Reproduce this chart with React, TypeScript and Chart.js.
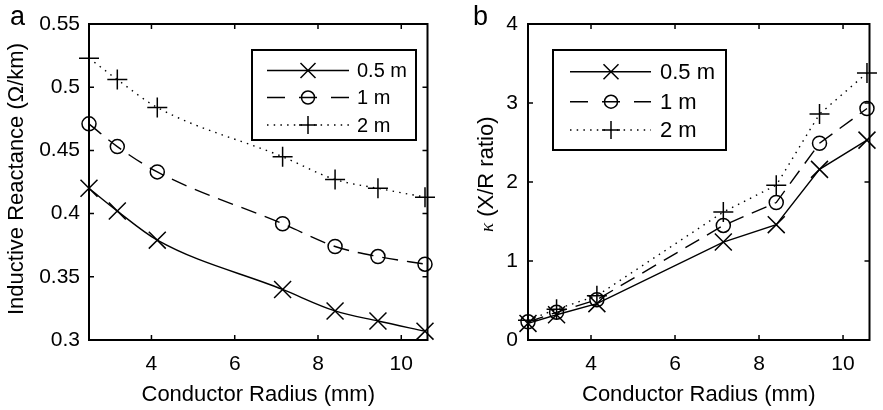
import React, { useEffect, useRef } from 'react';
import { Chart, registerables } from 'chart.js';

Chart.register(...registerables);

// ---------- data ----------
const radius = [2.5, 3.18, 4.14, 7.15, 8.41, 9.44, 10.57];
const seriesLabels = ['0.5 m', '1 m', '2 m'];

const reactance05 = [0.42, 0.402, 0.379, 0.34, 0.323, 0.315, 0.307];
const reactance1 = [0.471, 0.453, 0.433, 0.392, 0.374, 0.366, 0.36];
const reactance2 = [0.523, 0.506, 0.484, 0.445, 0.427, 0.42, 0.413];

const ratio05 = [0.21, 0.32, 0.46, 1.24, 1.46, 2.16, 2.53];
const ratio1 = [0.23, 0.35, 0.51, 1.45, 1.74, 2.49, 2.93];
const ratio2 = [0.25, 0.39, 0.56, 1.62, 1.96, 2.86, 3.38];

const xTicks = [4, 6, 8, 10];
const xTickLabels = ['4', '6', '8', '10'];
const reactanceTicks = [0.3, 0.35, 0.4, 0.45, 0.5, 0.55];
const reactanceTickLabels = ['0.3', '0.35', '0.4', '0.45', '0.5', '0.55'];
const ratioTicks = [0, 1, 2, 3, 4];
const ratioTickLabels = ['0', '1', '2', '3', '4'];

const FONT = "'Liberation Sans', Arial, Helvetica, sans-serif";

const seriesStyle = [
  { pointStyle: 'crossRot', r: 12, dash: [] as number[], legendDash: [] as number[] },
  { pointStyle: 'circle', r: 7, dash: [16, 9], legendDash: [18, 14] },
  { pointStyle: 'cross', r: 10, dash: [1.5, 5.2], legendDash: [1.5, 5.2] },
];

function drawMarker(ctx: CanvasRenderingContext2D, kind: string, x: number, y: number, s: number) {
  ctx.beginPath();
  if (kind === 'crossRot') {
    ctx.moveTo(x - s, y - s); ctx.lineTo(x + s, y + s);
    ctx.moveTo(x + s, y - s); ctx.lineTo(x - s, y + s);
  } else if (kind === 'circle') {
    ctx.arc(x, y, s, 0, Math.PI * 2);
  } else {
    ctx.moveTo(x - s, y); ctx.lineTo(x + s, y);
    ctx.moveTo(x, y - s); ctx.lineTo(x, y + s);
  }
  ctx.stroke();
}

type PanelCfg = {
  width: number;
  yValues: number[][];
  yMin: number; yMax: number;
  yTicks: number[]; yTickLabels: string[];
  yAxisWidth: number; yPad: number;
  padRight: number;
  smooth: boolean;
  panelLabel: string; panelLabelX: number;
  drawYTitle: (ctx: CanvasRenderingContext2D, area: any) => void;
  legend: { x0: number; y0: number; x1: number; y1: number; rows: number[]; lx0: number; lx1: number; mx: number; tx: number; font: number; ms: number[] };
};

function Panel({ cfg, left }: { cfg: PanelCfg; left: number }) {
  const ref = useRef<HTMLCanvasElement>(null);
  useEffect(() => {
    if (!ref.current) return;
    const framePlugin = {
      id: 'frameAndLegend',
      afterDraw(chart: any) {
        const { ctx, chartArea: a, scales } = chart;
        ctx.save();
        ctx.strokeStyle = '#000';
        ctx.fillStyle = '#000';
        // frame
        ctx.lineWidth = 2;
        ctx.setLineDash([]);
        ctx.strokeRect(a.left, a.top, a.right - a.left, a.bottom - a.top);
        ctx.lineWidth = 1.5;
        ctx.beginPath();
        for (const v of xTicks) {
          const px = scales.x.getPixelForValue(v);
          ctx.moveTo(px, a.bottom); ctx.lineTo(px, a.bottom - 5);
          ctx.moveTo(px, a.top); ctx.lineTo(px, a.top + 5);
        }
        for (const v of cfg.yTicks) {
          const py = scales.y.getPixelForValue(v);
          ctx.moveTo(a.left, py); ctx.lineTo(a.left + 5, py);
          ctx.moveTo(a.right, py); ctx.lineTo(a.right - 5, py);
        }
        ctx.stroke();
        // legend
        const L = cfg.legend;
        ctx.fillStyle = '#fff';
        ctx.fillRect(L.x0, L.y0, L.x1 - L.x0, L.y1 - L.y0);
        ctx.lineWidth = 2;
        ctx.strokeStyle = '#000';
        ctx.strokeRect(L.x0, L.y0, L.x1 - L.x0, L.y1 - L.y0);
        ctx.font = `${L.font}px ${FONT}`;
        ctx.textBaseline = 'middle';
        ctx.textAlign = 'left';
        seriesLabels.forEach((lab, i) => {
          const y = L.rows[i];
          const st = seriesStyle[i];
          ctx.lineWidth = 1.4;
          ctx.setLineDash(st.legendDash);
          ctx.beginPath();
          ctx.moveTo(L.lx0, y); ctx.lineTo(L.lx1, y);
          ctx.stroke();
          ctx.setLineDash([]);
          ctx.lineWidth = 1.5;
          drawMarker(ctx, st.pointStyle, L.mx, y, L.ms[i]);
          ctx.fillStyle = '#000';
          ctx.fillText(lab, L.tx, y + 1);
        });
        // y title
        cfg.drawYTitle(ctx, a);
        // panel label
        ctx.font = `27px ${FONT}`;
        ctx.textBaseline = 'alphabetic';
        ctx.textAlign = 'left';
        ctx.fillStyle = '#000';
        ctx.fillText(cfg.panelLabel, cfg.panelLabelX, 25);
        ctx.restore();
      },
    };

    const datasets = cfg.yValues.map((vals, i) => ({
      label: seriesLabels[i],
      data: radius.map((x, k) => ({ x, y: vals[k] })),
      borderColor: '#000',
      backgroundColor: 'rgba(0,0,0,0)',
      borderWidth: 1.4,
      borderDash: seriesStyle[i].dash,
      pointStyle: seriesStyle[i].pointStyle as any,
      pointRadius: seriesStyle[i].r,
      pointBorderWidth: 1.5,
      pointBorderColor: '#000',
      pointBackgroundColor: 'rgba(0,0,0,0)',
      fill: false,
      clip: false as any,
      cubicInterpolationMode: cfg.smooth ? ('monotone' as const) : ('default' as const),
      tension: 0,
    }));

    const chart = new Chart(ref.current, {
      type: 'line',
      data: { datasets },
      plugins: [framePlugin],
      options: {
        responsive: false,
        animation: false,
        devicePixelRatio: 1,
        layout: { padding: { top: 24, right: cfg.padRight, bottom: 0, left: 0 } },
        plugins: { legend: { display: false }, tooltip: { enabled: false } },
        scales: {
          x: {
            type: 'linear',
            min: 2.5,
            max: 10.63,
            grid: { display: false, drawTicks: false },
            border: { display: false },
            afterBuildTicks: (s: any) => { s.ticks = xTicks.map((v) => ({ value: v })); },
            afterFit: (s: any) => { s.height = 70; },
            ticks: {
              padding: 12,
              color: '#000',
              font: { family: FONT, size: 21 },
              maxRotation: 0,
              autoSkip: false,
              callback: (_v: any, i: number) => xTickLabels[i],
            },
            title: {
              display: true,
              text: 'Conductor Radius (mm)',
              color: '#000',
              font: { family: FONT, size: 22 },
              padding: { top: 0, bottom: 2 },
            },
          },
          y: {
            type: 'linear',
            min: cfg.yMin,
            max: cfg.yMax,
            grid: { display: false, drawTicks: false },
            border: { display: false },
            afterBuildTicks: (s: any) => { s.ticks = cfg.yTicks.map((v) => ({ value: v })); },
            afterFit: (s: any) => { s.width = cfg.yAxisWidth; },
            ticks: {
              padding: cfg.yPad,
              color: '#000',
              font: { family: FONT, size: 21 },
              autoSkip: false,
              callback: (_v: any, i: number) => cfg.yTickLabels[i],
            },
          },
        },
      },
    });
    return () => chart.destroy();
  }, [cfg]);
  return (
    <canvas
      ref={ref}
      width={cfg.width}
      height={410}
      style={{ position: 'absolute', left, top: 0, width: cfg.width, height: 410 }}
    />
  );
}

const leftCfg: PanelCfg = {
  width: 441,
  yValues: [reactance05, reactance1, reactance2],
  yMin: 0.3, yMax: 0.55,
  yTicks: reactanceTicks, yTickLabels: reactanceTickLabels,
  yAxisWidth: 89, yPad: 9, padRight: 2,
  smooth: true,
  panelLabel: 'a', panelLabelX: 10,
  drawYTitle: (ctx, a) => {
    ctx.save();
    ctx.font = `22px ${FONT}`;
    ctx.fillStyle = '#000';
    ctx.textAlign = 'center';
    ctx.textBaseline = 'alphabetic';
    ctx.translate(23, 179);
    ctx.rotate(-Math.PI / 2);
    ctx.fillText('Inductive Reactance (Ω/km)', 0, 0);
    ctx.restore();
  },
  legend: { x0: 252, y0: 50, x1: 416, y1: 140, rows: [70.5, 97.5, 125], lx0: 267, lx1: 349, mx: 308, tx: 357, font: 20, ms: [7.5, 6.5, 9] },
};

const rightCfg: PanelCfg = {
  width: 442,
  yValues: [ratio05, ratio1, ratio2],
  yMin: 0, yMax: 4,
  yTicks: ratioTicks, yTickLabels: ratioTickLabels,
  yAxisWidth: 87, yPad: 10, padRight: 6,
  smooth: false,
  panelLabel: 'b', panelLabelX: 32,
  drawYTitle: (ctx, a) => {
    ctx.save();
    ctx.fillStyle = '#000';
    ctx.textAlign = 'left';
    ctx.textBaseline = 'alphabetic';
    ctx.translate(52, 232);
    ctx.rotate(-Math.PI / 2);
    ctx.font = `italic 19px 'Liberation Serif', 'DejaVu Serif', serif`;
    ctx.fillText('κ', 0, 0);
    const w = ctx.measureText('κ').width;
    ctx.font = `22px ${FONT}`;
    ctx.fillText(' (X/R ratio)', w, 0);
    ctx.restore();
  },
  legend: { x0: 112, y0: 50, x1: 285, y1: 150, rows: [71.7, 101.7, 130], lx0: 129, lx1: 210, mx: 170, tx: 219, font: 22, ms: [7.5, 6.5, 9] },
};

export default function App() {
  return (
    <div style={{ position: 'absolute', left: 0, top: 0, width: 883, height: 410, background: '#fff', overflow: 'hidden' }}>
      <Panel cfg={leftCfg} left={0} />
      <Panel cfg={rightCfg} left={441} />
    </div>
  );
}
